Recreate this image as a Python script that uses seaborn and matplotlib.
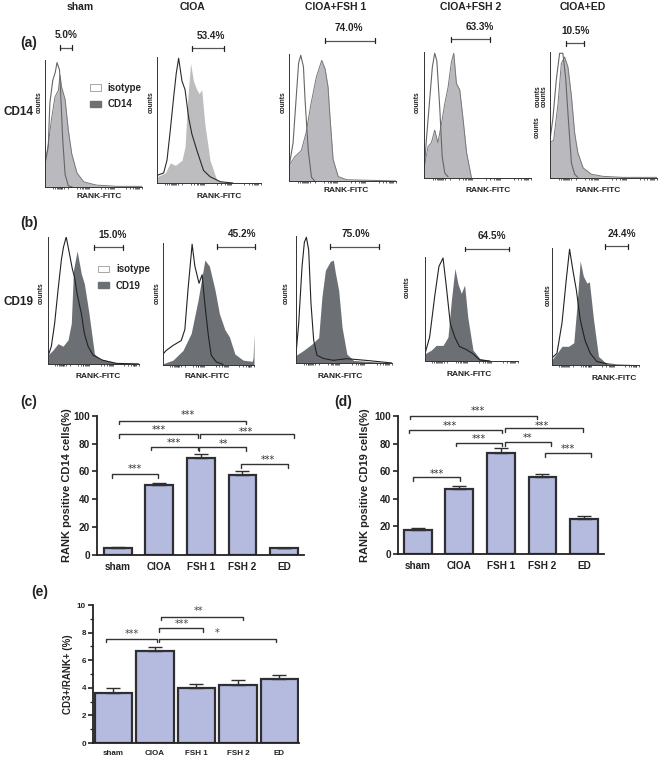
import numpy as np
import matplotlib
matplotlib.use("Agg")
import matplotlib.pyplot as plt
import seaborn as sns
from matplotlib.patches import Patch

sns.set_theme(style="white")
plt.rcParams["font.family"] = ["Liberation Sans", "DejaVu Sans"]
plt.rcParams["font.weight"] = "bold"

BAR = "#b4bbde"
DARK = "#2c2c30"
LIGHT_FILL = "#b9b9be"
PALE_FILL = "#bdbdc0"
DARK_FILL = "#6c6f74"

# histograms: x and height are percent of the plot box
a1_iso_x = [0, 3.4, 5, 8, 10.5, 12.4, 15, 16.5, 18.3, 20.7, 24, 28]
a1_iso_y = [18, 32, 66, 84, 90, 98, 92, 68, 37, 10, 1, 0]
a1_pos_x = [0, 3.4, 7, 10.3, 13.8, 15.5, 17, 20.7, 24, 27.6, 33, 40, 53, 74, 100]
a1_pos_y = [18, 34, 55, 71, 76, 88, 79, 69, 45, 26, 11, 4, 1.5, .5, .5]

a2_iso_x = [0, 6.4, 9.6, 12.8, 16, 18.5, 20.8, 24, 27, 30.4, 33.5, 38.3, 44.7, 51, 61, 73]
a2_iso_y = [6, 8, 18, 42, 68, 87, 99, 81, 74, 52, 39, 26, 10, 5, 1, 0]
a2_pos_x = [0, 8, 12.8, 17.6, 24, 27, 29.4, 32.3, 35, 38.3, 40.5, 43, 46, 51, 57.5, 64, 100]
a2_pos_y = [5, 8, 16, 14, 18, 29, 65, 95, 81, 74, 71, 74, 47, 18, 2.4, .5, 0]

a3_iso_x = [0, 3.8, 7, 9, 11, 13.5, 15, 18, 21, 24]
a3_iso_y = [11, 30, 69, 93, 99, 90, 64, 24, 3, 0]
a3_pos_x = [0, 5.3, 11.5, 16, 20.6, 25.6, 30.6, 33.8, 36.5, 38.1, 41.2, 46, 53.8, 100]
a3_pos_y = [12, 19, 24, 38, 61, 82, 95, 88, 74, 53, 17, 3.5, 1, 0]

a4_iso_x = [0, 2, 5.3, 7.8, 10, 12, 14.7, 17, 19.4, 22.5]
a4_iso_y = [4, 28, 62, 88, 99, 93, 56, 17, 4, 1]
a4_pos_x = [0, 3.8, 6.9, 10, 13, 16.3, 19.4, 22.5, 25.6, 27.8, 30.3, 33.4, 36.6, 39.8, 42.8, 44.4]
a4_pos_y = [8, 25, 28, 38, 28, 43, 59, 72, 92, 99, 75, 70, 46, 20, 7, 0]

a5_iso_x = [0, 2.8, 5.9, 9, 12, 14.6, 16.8, 20, 23, 26]
a5_iso_y = [30, 48, 78, 99, 99, 80, 51, 12, 3, .5]
a5_pos_x = [0, 3.4, 7.5, 10.6, 13.7, 16.8, 20, 23, 26, 31, 38.6, 49.5, 68, 100]
a5_pos_y = [28, 30, 59, 91, 96, 88, 65, 36, 20, 8, 3, 1.3, .5, .5]

b1_iso_x = [0, 3.7, 7.3, 11, 14.7, 17, 20, 23, 26.7, 29.3, 32, 36.6, 40, 44, 49.5, 60, 75, 100]
b1_iso_y = [6, 14, 32, 58, 82, 92, 100, 89, 75, 68, 55, 40, 24, 14, 7, 3, .5, 0]
b1_pos_x = [0, 5.5, 11, 16.5, 22, 25.6, 28, 32, 36.6, 40, 45, 51, 57, 75, 100]
b1_pos_y = [7, 11, 16, 14, 19, 32, 74, 89, 71, 63, 40, 8, 4, 1, .5]

b2_iso_x = [0, 3.7, 11, 20, 24, 27.5, 32, 35, 39.6, 43, 46, 50, 53, 58.6, 66]
b2_iso_y = [9, 12, 16, 20, 29, 62, 99, 81, 67, 74, 50, 23, 8, 2.5, .5]
b2_pos_x = [0, 11, 22, 31, 38.5, 46, 51, 57, 62, 68, 73, 79, 88, 98, 99, 100]
b2_pos_y = [1, 4, 12, 26, 53, 86, 81, 62, 42, 29, 23, 9, 4, 3, 6, 26]

b3_iso_x = [0, 2.8, 6.3, 8.7, 10.8, 13.2, 15.6, 18.4, 21.9, 28.8, 39, 53, 74, 100]
b3_iso_y = [7, 31, 76, 95, 99, 89, 47, 18, 6, 3.5, 2.1, 3.4, 2, 0]
b3_pos_x = [0, 8, 16.7, 23.6, 27, 30.6, 35.8, 38.9, 41, 44.5, 48, 53, 60, 100]
b3_pos_y = [6, 10, 15, 20, 52, 73, 80, 81, 71, 57, 28, 7, 2, 0]

b4_iso_x = [0, 5, 10.4, 15, 19.4, 23, 27.2, 32, 37, 44.4, 51.6, 58.8, 70]
b4_iso_y = [7, 23, 62, 91, 99, 71, 36, 23, 14, 11, 7, 1, 0]
b4_pos_x = [0, 6.8, 12, 19.4, 24.7, 28.3, 32.2, 35.5, 39, 42.6, 46, 51.6, 58.8, 70]
b4_pos_y = [7, 10.5, 15, 15, 23, 58, 89, 74, 65, 73, 42, 10.5, 2.5, .3]

b5_iso_x = [0, 5.7, 11.5, 16.4, 20.2, 24, 28, 32.4, 38, 44, 51.5, 63]
b5_iso_y = [6, 10, 36, 73, 99, 81, 64, 39, 21, 10, 3, 1]
b5_pos_x = [0, 5.7, 11.5, 19, 25, 28.6, 32.4, 36, 40, 43, 47.7, 53.4, 61, 74.4, 100]
b5_pos_y = [4.5, 10, 16, 16, 19, 50, 89, 76, 70, 71, 39, 7.4, 2.3, 1, .3]

hist_ticks = [8, 10, 12, 13, 14, 15, 16, 17, 18, 20, 24, 33, 36, 38, 39, 41, 42, 43, 44, 45,
              58, 62, 65, 67, 68, 69, 70, 71, 84, 88, 91, 93, 94, 95, 96, 97, 100]

# gate lo, gate hi, gate height, label x, label
gate_a_lo = [15.5, 33.9, 33.4, 25, 14.6]
gate_a_hi = [27.6, 64.9, 80.3, 61.9, 32]
gate_a_h = [109.7, 107, 110.5, 110, 107]
gate_a_tx = [21.7, 52, 56, 52, 23.7]
gate_a_txt = ["5.0%", "53.4%", "74.0%", "63.3%", "10.5%"]
gate_b_lo = [50.9, 59.3, 35.8, 43.4, 60.7]
gate_b_hi = [82.8, 101.5, 86.8, 90, 87]
gate_b_h = [92, 97, 91.6, 108, 101.4]
gate_b_tx = [71.4, 87.2, 62, 72.4, 80.5]
gate_b_txt = ["15.0%", "45.2%", "75.0%", "64.5%", "24.4%"]

# bar panels
groups = ["sham", "CIOA", "FSH 1", "FSH 2", "ED"]
cd14_vals = [5, 50.5, 70, 57.5, 4.5]
cd14_err = [0.6, 1.5, 2.5, 2.8, 0.5]
cd19_vals = [17.3, 47, 73.5, 55.5, 25.5]
cd19_err = [1.3, 2.5, 3.3, 2.7, 2.3]
cd3_vals = [3.65, 6.65, 4.0, 4.2, 4.65]
cd3_err = [0.3, 0.3, 0.3, 0.37, 0.3]

# bracket: x1, x2, y, star x, star y, label
c_brackets = [(0.04, 3.09, 96.6, 1.68, 100.5, "***"), (0.04, 1.92, 87, 0.98, 90, "***"),
              (1.98, 4.23, 87, 3.09, 88.5, "***"), (0.79, 1.92, 78, 1.34, 80.5, "***"),
              (1.96, 3.09, 77.4, 2.54, 80, "**"), (2.97, 4.1, 65.4, 3.6, 68.5, "***"),
              (-0.14, 0.98, 58.2, 0.42, 61.5, "***")]
d_brackets = [(-0.18, 2.87, 100.3, 1.45, 103.5, "***"), (-0.21, 2.03, 90, 0.78, 92.5, "***"),
              (2.09, 3.97, 91, 2.99, 93, "***"), (0.92, 2.03, 80.5, 1.47, 83, "***"),
              (2.09, 3.2, 81, 2.63, 84, "**"), (3.05, 4.17, 73, 3.62, 76, "***"),
              (-0.11, 1.02, 55.5, 0.46, 58, "***")]
e_brackets = [(-0.18, 1.04, 7.55, 0.44, 7.9, "***"), (1.11, 2.17, 8.3, 1.65, 8.6, "***"),
              (1.14, 3.12, 9.15, 2.04, 9.6, "**"), (1.09, 3.92, 7.55, 2.51, 8.0, "*")]

fig = plt.figure(figsize=(6.6, 7.6), dpi=100)


def box(l, t, r, b):
    return fig.add_axes([l / 660, 1 - b / 760, (r - l) / 660, (b - t) / 760])


def label(x, y, s, size=7, **kw):
    kw.setdefault("ha", "center")
    fig.text(x / 660, 1 - y / 760, s, fontsize=size, va="center", fontweight="bold", color="#222222", **kw)


def hist_panel(rect, iso_x, iso_y, pos_x, pos_y, fill, edge, iso_color, gate):
    ax = box(*rect)
    ax.patch.set_alpha(0)
    ax.fill_between(pos_x, pos_y, color=fill, lw=0)
    if edge:
        ax.plot(pos_x, pos_y, color=edge, lw=0.7)
    sns.lineplot(x=iso_x, y=iso_y, color=iso_color, lw=0.8, estimator=None, sort=False, ax=ax)
    ax.set_xlim(0, 100)
    ax.set_ylim(0, 100)
    ax.set_yticks([])
    ax.set_xticks(hist_ticks)
    ax.set_xticklabels([])
    ax.tick_params(axis="x", length=1.6, width=0.5, color="#222222", bottom=True, pad=0)
    sns.despine(ax=ax)
    for s in ("left", "bottom"):
        ax.spines[s].set_linewidth(0.7)
        ax.spines[s].set_color("#333333")
    lo, hi, h, tx, txt = gate
    ax.plot([lo, hi], [h, h], color="#555555", lw=0.9, clip_on=False)
    for g in (lo, hi):
        ax.plot([g, g], [h - 2, h + 2], color="#222222", lw=0.9, clip_on=False)
    ax.annotate(txt, (tx, h), xytext=(0, 9), textcoords="offset points", ha="center", va="center",
                fontsize=7.2, fontweight="bold", color="#222222", annotation_clip=False)
    return ax


rects_a = [(45, 60, 142, 187), (157, 57, 261, 183), (289, 54, 396, 181), (424, 52, 531, 178), (550, 52, 657, 178)]
rects_b = [(48, 237, 139, 364), (163, 243, 254, 365), (296, 236, 392, 363), (425, 257, 518, 361), (552, 248, 639, 365)]

curves_a = [(a1_iso_x, a1_iso_y, a1_pos_x, a1_pos_y), (a2_iso_x, a2_iso_y, a2_pos_x, a2_pos_y),
            (a3_iso_x, a3_iso_y, a3_pos_x, a3_pos_y), (a4_iso_x, a4_iso_y, a4_pos_x, a4_pos_y),
            (a5_iso_x, a5_iso_y, a5_pos_x, a5_pos_y)]
curves_b = [(b1_iso_x, b1_iso_y, b1_pos_x, b1_pos_y), (b2_iso_x, b2_iso_y, b2_pos_x, b2_pos_y),
            (b3_iso_x, b3_iso_y, b3_pos_x, b3_pos_y), (b4_iso_x, b4_iso_y, b4_pos_x, b4_pos_y),
            (b5_iso_x, b5_iso_y, b5_pos_x, b5_pos_y)]

axes_a = []
for i in range(5):
    fill = PALE_FILL if i == 1 else LIGHT_FILL
    edge = None if i == 1 else "#77777c"
    iso_col = "#2a2a2a" if i == 1 else "#666666"
    gate = (gate_a_lo[i], gate_a_hi[i], gate_a_h[i], gate_a_tx[i], gate_a_txt[i])
    axes_a.append(hist_panel(rects_a[i], *curves_a[i], fill, edge, iso_col, gate))

axes_b = []
for i in range(5):
    gate = (gate_b_lo[i], gate_b_hi[i], gate_b_h[i], gate_b_tx[i], gate_b_txt[i])
    axes_b.append(hist_panel(rects_b[i], *curves_b[i], DARK_FILL, None, "#222222", gate))


def small_legend(ax, name, anchor):
    handles = [Patch(facecolor="white", edgecolor="#999999", lw=0.6, label="isotype"),
               Patch(facecolor=DARK_FILL, edgecolor=DARK_FILL, label=name)]
    ax.legend(handles=handles, loc="upper left", bbox_to_anchor=anchor, frameon=False, fontsize=7,
              handlelength=1.15, handleheight=0.6, handletextpad=0.7, labelspacing=0.65,
              borderpad=0, borderaxespad=0)


small_legend(axes_a[0], "CD14", (0.46, 0.82))
small_legend(axes_b[0], "CD19", (0.55, 0.785))

# header and panel text
for x, s in zip([80, 192, 336, 471, 583], ["sham", "CIOA", "CIOA+FSH 1", "CIOA+FSH 2", "CIOA+ED"]):
    label(x, 7, s, size=7.5)
for x, y, s in [(29, 43, "(a)"), (29, 223, "(b)"), (29, 402, "(c)"), (343, 402, "(d)"), (40, 592, "(e)")]:
    label(x, y, s, size=10)
label(18, 112, "CD14", size=8.5)
label(18, 302, "CD19", size=8.5)

for x, y in [(99, 196), (219, 196), (346, 191), (488, 190), (598, 190),
             (98, 377), (207, 377), (340, 376), (469, 375), (614, 378)]:
    label(x, y, "RANK-FITC", size=6)
for x, y in [(39, 102), (151, 102), (283, 102), (417, 102), (538, 96), (544, 96), (537, 127),
             (41, 293), (157, 293), (286, 293), (407, 287), (548, 295)]:
    label(x, y, "counts", size=4.8, rotation=90)


def bar_panel(rect, vals, errs, ymax, major, xlim, width, brackets, ylabel, drop, lab_size, tick_size,
              lab_x, star_size, star_col, minor=None):
    ax = box(*rect)
    ax.patch.set_alpha(0)
    sns.barplot(x=groups, y=vals, color=BAR, saturation=1, width=width, edgecolor="#2f2f33",
                linewidth=1.6, ax=ax)
    ax.errorbar(np.arange(5), vals, yerr=[np.zeros(5), errs], fmt="none", ecolor="#2f2f33",
                elinewidth=1.0, capsize=4.8, capthick=1.0)
    ax.set_xlim(*xlim)
    ax.set_ylim(0, ymax)
    ax.set_yticks(np.arange(0, ymax + 1, major))
    if minor:
        ax.set_yticks(np.arange(0, ymax + 1, minor), minor=True)
    ax.tick_params(axis="y", which="major", length=3.5, width=1.2, left=True, labelsize=tick_size, pad=1.5,
                   color="#222222", labelcolor="#222222")
    ax.tick_params(axis="y", which="minor", length=2, width=0.9, left=True, color="#222222")
    ax.tick_params(axis="x", length=0, labelsize=tick_size, pad=5, labelcolor="#222222")
    sns.despine(ax=ax)
    for s in ("left", "bottom"):
        ax.spines[s].set_linewidth(1.3)
        ax.spines[s].set_color("#222222")
    ax.set_ylabel(ylabel, fontsize=lab_size, fontweight="bold", color="#222222")
    ax.yaxis.set_label_coords(lab_x, 0.5)
    for x1, x2, y, sx, sy, txt in brackets:
        ax.plot([x1, x1, x2, x2], [y - drop, y, y, y - drop], color="#333333", lw=1.0, clip_on=False)
        ax.text(sx, sy, txt, ha="center", va="center", fontsize=star_size, color=star_col,
                fontfamily="DejaVu Sans", fontweight="normal", clip_on=False)
    return ax


bar_panel((96.7, 416, 304, 554.7), cd14_vals, cd14_err, 100, 20, (-0.505, 4.48), 0.667, c_brackets,
          "RANK positive CD14 cells(%)", 2.6, 8, 7.2, -0.12, 7, "#333333")
bar_panel((397.7, 416, 604, 554), cd19_vals, cd19_err, 100, 20, (-0.48, 4.48), 0.667, d_brackets,
          "RANK positive CD19 cells(%)", 2.6, 8, 7.2, -0.135, 7, "#333333")
bar_panel((92.7, 605, 299, 743), cd3_vals, cd3_err, 10, 2, (-0.498, 4.47), 0.905, e_brackets,
          "CD3+/RANK+ (%)", 0.26, 7, 5.8, -0.095, 7, "#444444", minor=1)

fig.savefig("out.png", dpi=100, facecolor="white")
